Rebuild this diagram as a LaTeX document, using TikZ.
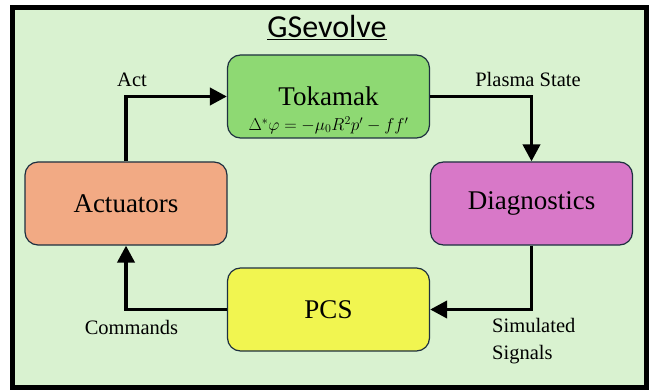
\documentclass[tikz,border=0pt]{standalone}
\usepackage{fontspec}
\setmainfont{Liberation Serif}
\newfontfamily\calibrifont{Carlito}
\usetikzlibrary{arrows.meta}
\definecolor{bggreen}{HTML}{D9F2D0}
\definecolor{tokgreen}{HTML}{8ED973}
\definecolor{actsalmon}{HTML}{F2AA84}
\definecolor{diagpink}{HTML}{D878C8}
\definecolor{pcsyellow}{HTML}{F1F550}
\definecolor{boxedge}{HTML}{1E3040}
\tikzset{
  blockbox/.style={draw=boxedge, line width=1.2pt, rounded corners=13pt,
    minimum width=202pt, minimum height=83pt, inner sep=0pt,
    font=\fontsize{27}{30}\selectfont},
  flow/.style={line width=3.8pt, -{Triangle[length=17pt,width=17pt]}},
  lbl/.style={font=\fontsize{20.5}{27}\selectfont, inner sep=0pt}
}
\begin{document}
\begin{tikzpicture}[x=1pt,y=-1pt]
\useasboundingbox (0,0) rectangle (650,390);
\draw[line width=5pt, fill=bggreen] (12.5,7.5) rectangle (646,387.5);
\node[font=\calibrifont\fontsize{32}{36}\selectfont, inner sep=0pt, anchor=base] (title) at (327,38) {\underline{GSevolve}};

\node[blockbox, fill=tokgreen] (tok) at (328.5,96.5) {};
\node[font=\fontsize{27}{30}\selectfont, inner sep=0pt, anchor=base] (toklbl) at (328.5,106) {Tokamak};
\node[font=\fontsize{17}{20}\selectfont, inner sep=0pt] (tokeq) at (328.5,125) {$\Delta^{*}\varphi = -\mu_0 R^2 p' - f f'$};

\node[blockbox, fill=actsalmon] (act) at (126,203.5) {Actuators};
\node[blockbox, fill=diagpink] (diag) at (531.5,203.5) {Diagnostics};
\node[blockbox, fill=pcsyellow] (pcs) at (328.5,309.5) {PCS};

\draw[flow] (act.north) |- (tok.west);
\draw[flow] (tok.east) -| (diag.north);
\draw[flow] (diag.south) |- (pcs.east);
\draw[flow] (pcs.west) -| (act.south);

\node[lbl, anchor=base] (lact) at (132,87) {Act};
\node[lbl, anchor=base] (lplasma) at (528,87) {Plasma State};
\node[lbl, anchor=base] (lcmd) at (131.5,334) {Commands};
\node[lbl, anchor=base west, align=left] (lsim) at (492,332) {Simulated};
\node[lbl, anchor=base west, align=left] (lsig) at (492,359) {Signals};
\end{tikzpicture}
\end{document}
